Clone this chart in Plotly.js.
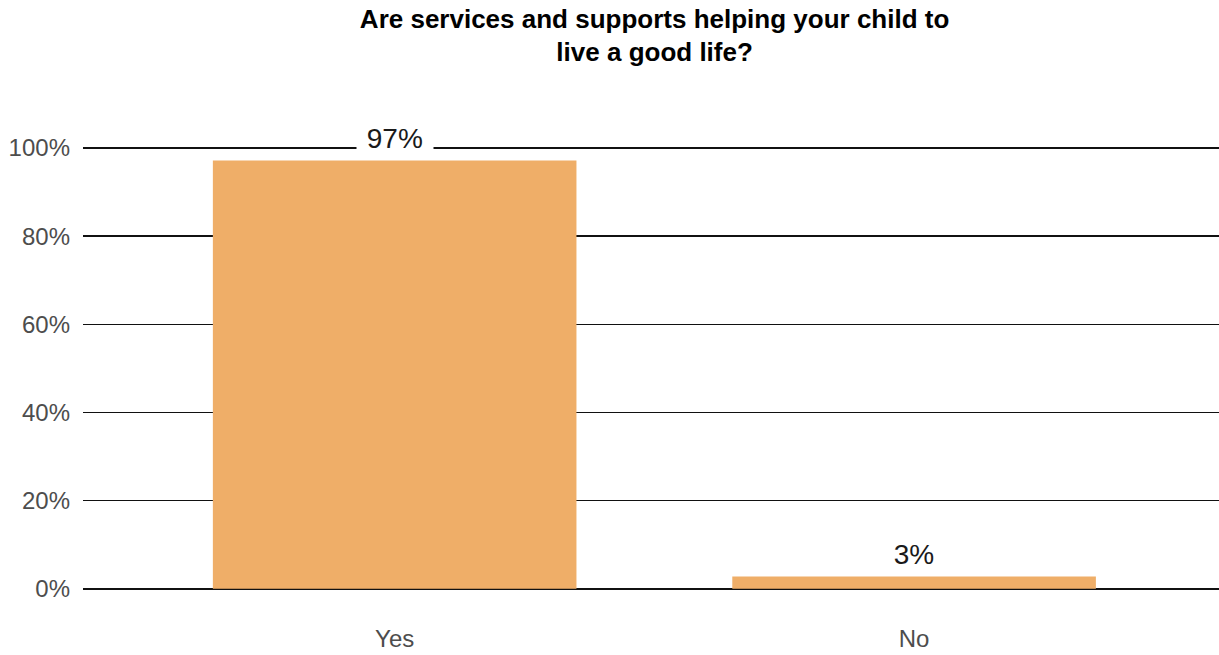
<!DOCTYPE html>
<html>
<head>
<meta charset="utf-8">
<script src="https://cdn.plot.ly/plotly-3.0.1.min.js"></script>
<style>html,body{margin:0;padding:0;background:#fff;}#chart{width:1219px;height:655px;}</style>
</head>
<body>
<div id="chart"></div>
<script>
const categories = ["Yes", "No"];
const values = [97.2, 2.8];
const labels = ["97%", "3%"];
const yTickVals = [0, 20, 40, 60, 80, 100];
const yTickText = ["0%", "20%", "40%", "60%", "80%", "100%"];
const titleText = "Are services and supports helping your child to<br>live a good life?";

const trace = {
  type: "bar",
  x: categories,
  y: values,
  width: 0.7,
  marker: {color: "#EFAE68"},
  hoverinfo: "none"
};

const annotations = categories.map((c, i) => ({
  x: c, y: values[i], xref: "x", yref: "y",
  text: "&nbsp;" + labels[i] + "&nbsp;", showarrow: false,
  yanchor: "middle", yshift: 22,
  bgcolor: "#ffffff", borderpad: 2,
  font: {family: "Liberation Sans, Arial, sans-serif", size: 28, color: "#1a1a1a"}
}));

const layout = {
  width: 1219, height: 655,
  paper_bgcolor: "#ffffff", plot_bgcolor: "#ffffff",
  margin: {l: 83, r: 0, t: 104, b: 53},
  showlegend: false,
  title: {
    text: titleText,
    x: 0.537, xanchor: "center", y: 0.958, yanchor: "top",
    font: {family: "Liberation Sans Narrow, Arial Narrow, sans-serif", size: 26, color: "#000000", weight: "bold"}
  },
  xaxis: {
    type: "category",
    range: [-0.6, 1.587],
    showgrid: false, zeroline: false, showline: false, ticks: "",
    tickfont: {family: "Liberation Sans, Arial, sans-serif", size: 24, color: "#4d4d4d"},
    ticklabelstandoff: 20
  },
  yaxis: {
    range: [-3, 110],
    tickvals: yTickVals, ticktext: yTickText,
    showgrid: true, gridcolor: "#111111", gridwidth: 1.6,
    zeroline: false, showline: false, ticks: "",
    tickfont: {family: "Liberation Sans, Arial, sans-serif", size: 24, color: "#4d4d4d"},
    ticklabelstandoff: 12
  },
  annotations: annotations
};

Plotly.newPlot("chart", [trace], layout, {displayModeBar: false, staticPlot: true});
</script>
</body>
</html>
